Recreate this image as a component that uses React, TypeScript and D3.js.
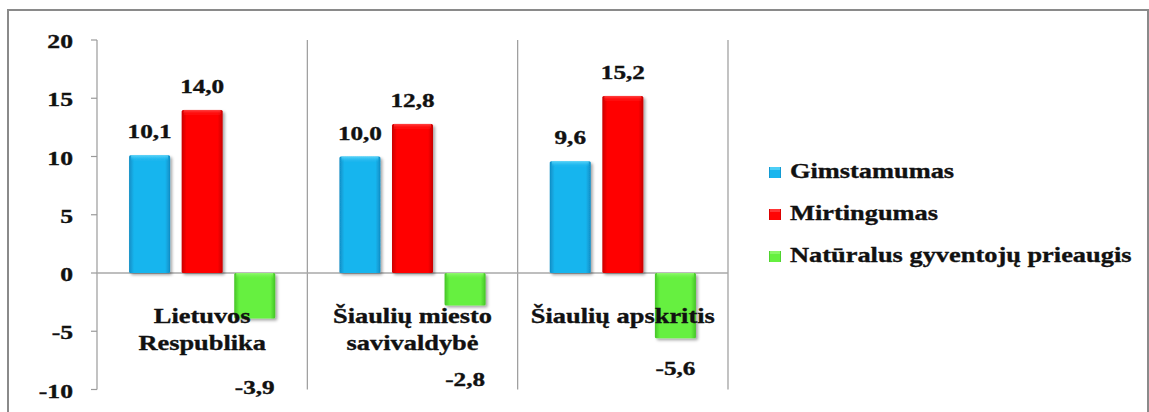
import React from "react";
import * as d3 from "d3";

const categories: string[][] = [
  ["Lietuvos", "Respublika"],
  ["Šiaulių miesto", "savivaldybė"],
  ["Šiaulių apskritis"],
];
const seriesNames = ["Gimstamumas", "Mirtingumas", "Natūralus gyventojų prieaugis"];
const gimstamumas = [10.1, 10.0, 9.6];
const mirtingumas = [14.0, 12.8, 15.2];
const prieaugis = [-3.9, -2.8, -5.6];
const yTicks = [20, 15, 10, 5, 0, -5, -10];

const W = 1149;
const H = 412;
const FONT = "Liberation Serif";

const palette = [
  { main: "#19b5ee", edge: "#0f8cc4", light: "#62d8fa" },
  { main: "#ff0505", edge: "#c80000", light: "#ff4a4a" },
  { main: "#66f040", edge: "#44c426", light: "#98fa78" },
];
// manual label nudges (px) for the negative values, as in the original
const negLabelDy = [76, 80, 37];

const fmt = (v: number) => v.toFixed(1).replace(".", ",");

function SText(props: {
  x: number; y: number; sx: number; size: number; anchor?: string; children: React.ReactNode;
}) {
  const { x, y, sx, size, anchor = "middle", children } = props;
  return (
    <text
      transform={`translate(${x},${y}) scale(${sx},1)`}
      textAnchor={anchor}
      fontFamily={FONT}
      fontWeight="bold"
      fontSize={size}
      fill="#111"
      stroke="#111"
      strokeWidth={0.35}
    >
      {children}
    </text>
  );
}

export default function App() {
  const series = [gimstamumas, mirtingumas, prieaugis];
  const y = d3.scaleLinear().domain([-10, 20]).range([389.5, 40]);
  const x0 = d3.scaleBand<number>().domain(d3.range(categories.length)).range([97, 728]).padding(0);
  const x1 = d3
    .scaleBand<number>()
    .domain(d3.range(series.length))
    .range([0, x0.bandwidth()])
    .paddingInner(0.22)
    .paddingOuter(0.61);

  const y0 = y(0);

  return (
    <svg
      width={W}
      height={H}
      style={{ position: "absolute", left: 0, top: 0, background: "#fff" }}
    >
      <defs>
        {palette.map((c, i) => (
          <linearGradient key={i} id={`g${i}`} x1="0" x2="1" y1="0" y2="0">
            <stop offset="0" stopColor={c.edge} />
            <stop offset="0.12" stopColor={c.main} />
            <stop offset="0.88" stopColor={c.main} />
            <stop offset="1" stopColor={c.edge} />
          </linearGradient>
        ))}
        {palette.map((c, i) => (
          <linearGradient key={"t" + i} id={`t${i}`} x1="0" x2="0" y1="0" y2="1">
            <stop offset="0" stopColor={c.light} stopOpacity="0.9" />
            <stop offset="1" stopColor={c.main} stopOpacity="0" />
          </linearGradient>
        ))}
        <filter id="sh" x="-20%" y="-20%" width="150%" height="150%">
          <feDropShadow dx="2" dy="2" stdDeviation="1.5" floodColor="#000" floodOpacity="0.35" />
        </filter>
      </defs>

      {/* outer frame */}
      <rect x={8} y={10} width={1140} height={420} fill="none" stroke="#8a8a8a" strokeWidth={2} />

      {/* y axis */}
      <line x1={97} x2={97} y1={y(20)} y2={y(-10)} stroke="#9a9a9a" strokeWidth={1.2} />
      {yTicks.map((t) => (
        <g key={t}>
          <line x1={91} x2={97} y1={y(t)} y2={y(t)} stroke="#9a9a9a" strokeWidth={1.2} />
          <SText x={73} y={y(t) + 8} sx={1.35} size={19} anchor="end">
            {String(t)}
          </SText>
        </g>
      ))}

      {/* category separators */}
      {categories.map((_, i) => (
        <line
          key={i}
          x1={(x0(i) as number) + x0.bandwidth()}
          x2={(x0(i) as number) + x0.bandwidth()}
          y1={y(20)}
          y2={y(-10)}
          stroke="#9a9a9a"
          strokeWidth={1.2}
        />
      ))}

      {/* zero line */}
      <line x1={97} x2={728} y1={y0} y2={y0} stroke="#a8a8a8" strokeWidth={1.5} />

      {/* bars */}
      {categories.map((_, ci) =>
        series.map((s, si) => {
          const v = s[ci];
          const bx = (x0(ci) as number) + (x1(si) as number);
          const bw = x1.bandwidth();
          const top = Math.min(y(v), y0);
          const h = Math.abs(y(v) - y0);
          return (
            <g key={`${ci}-${si}`} filter="url(#sh)">
              <rect x={bx} y={top} width={bw} height={h} fill={`url(#g${si})`} rx={1.5} />
              <rect x={bx + 2} y={top} width={bw - 4} height={Math.min(6, h)} fill={`url(#t${si})`} />
            </g>
          );
        })
      )}

      {/* category labels */}
      {categories.map((lines, ci) => {
        const cx = (x0(ci) as number) + x0.bandwidth() / 2;
        return lines.map((ln, li) => (
          <SText key={`${ci}-${li}`} x={cx} y={323 + li * 27} sx={1.2} size={22}>
            {ln}
          </SText>
        ));
      })}

      {/* value labels */}
      {categories.map((_, ci) =>
        series.map((s, si) => {
          const v = s[ci];
          const cx = (x0(ci) as number) + (x1(si) as number) + x1.bandwidth() / 2;
          const ly = v >= 0 ? y(v) - 17 : y(v) + negLabelDy[ci];
          return (
            <SText key={`${ci}-${si}`} x={cx} y={ly} sx={1.4} size={18}>
              {fmt(v)}
            </SText>
          );
        })
      )}

      {/* legend */}
      {seriesNames.map((n, i) => {
        const by = 178 + i * 42;
        return (
          <g key={n}>
            <rect x={769} y={by - 11} width={12} height={11} fill={`url(#g${i})`} />
            <rect x={770} y={by - 11} width={10} height={3} fill={palette[i].light} opacity={0.7} />
            <SText x={790} y={by} sx={1.2} size={22} anchor="start">
              {n}
            </SText>
          </g>
        );
      })}
    </svg>
  );
}
